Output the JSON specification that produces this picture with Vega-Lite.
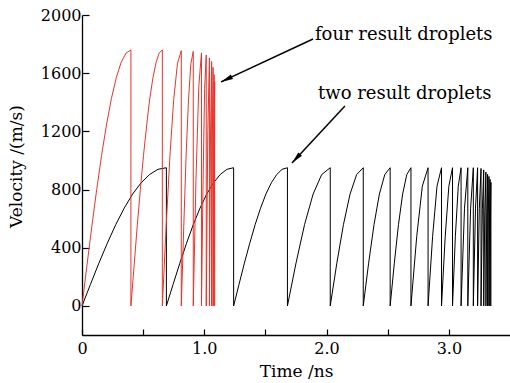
{
  "$schema": "https://vega.github.io/schema/vega-lite/v6.json",
  "width": 428,
  "height": 320,
  "autosize": {"type": "none"},
  "padding": {"left": 82, "top": 15, "right": 0, "bottom": 48},
  "background": "white",
  "config": {
    "view": {"stroke": null},
    "font": "DejaVu Serif",
    "axis": {
      "grid": false,
      "labelFlush": false,
      "domainColor": "#000",
      "tickColor": "#000",
      "labelColor": "#000",
      "titleColor": "#000",
      "labelFont": "DejaVu Serif",
      "titleFont": "DejaVu Serif",
      "labelFontSize": 16,
      "titleFontSize": 17,
      "titleFontWeight": "normal",
      "domainWidth": 1.3,
      "tickWidth": 1.2
    }
  },
  "datasets": {
    "black": [
      {"t": 0, "v": 0}, {"t": 0.069, "v": 148}, {"t": 0.138, "v": 294}, {"t": 0.207, "v": 431}, {"t": 0.276, "v": 559}, {"t": 0.345, "v": 672}, {"t": 0.414, "v": 769}, {"t": 0.483, "v": 846}, {"t": 0.552, "v": 903}, {"t": 0.621, "v": 939}, {"t": 0.69, "v": 950}, {"t": 0.69, "v": 0},
      {"t": 0.745, "v": 148}, {"t": 0.8, "v": 294}, {"t": 0.855, "v": 431}, {"t": 0.91, "v": 559}, {"t": 0.965, "v": 672}, {"t": 1.02, "v": 769}, {"t": 1.075, "v": 846}, {"t": 1.13, "v": 903}, {"t": 1.185, "v": 939}, {"t": 1.24, "v": 950}, {"t": 1.24, "v": 0},
      {"t": 1.284, "v": 148}, {"t": 1.328, "v": 294}, {"t": 1.372, "v": 431}, {"t": 1.416, "v": 559}, {"t": 1.46, "v": 672}, {"t": 1.504, "v": 769}, {"t": 1.548, "v": 846}, {"t": 1.592, "v": 903}, {"t": 1.636, "v": 939}, {"t": 1.68, "v": 950}, {"t": 1.68, "v": 0},
      {"t": 1.75, "v": 294}, {"t": 1.82, "v": 559}, {"t": 1.89, "v": 769}, {"t": 1.96, "v": 903}, {"t": 2.03, "v": 950}, {"t": 2.03, "v": 0},
      {"t": 2.084, "v": 294}, {"t": 2.138, "v": 559}, {"t": 2.192, "v": 769}, {"t": 2.246, "v": 903}, {"t": 2.3, "v": 950}, {"t": 2.3, "v": 0},
      {"t": 2.344, "v": 294}, {"t": 2.388, "v": 559}, {"t": 2.432, "v": 769}, {"t": 2.476, "v": 903}, {"t": 2.52, "v": 950}, {"t": 2.52, "v": 0},
      {"t": 2.554, "v": 294}, {"t": 2.588, "v": 559}, {"t": 2.622, "v": 769}, {"t": 2.656, "v": 903}, {"t": 2.69, "v": 950}, {"t": 2.69, "v": 0},
      {"t": 2.737, "v": 475}, {"t": 2.783, "v": 823}, {"t": 2.83, "v": 950}, {"t": 2.83, "v": 0},
      {"t": 2.867, "v": 475}, {"t": 2.903, "v": 823}, {"t": 2.94, "v": 950}, {"t": 2.94, "v": 0},
      {"t": 2.97, "v": 475}, {"t": 3.0, "v": 823}, {"t": 3.03, "v": 950}, {"t": 3.03, "v": 0},
      {"t": 3.053, "v": 475}, {"t": 3.077, "v": 823}, {"t": 3.1, "v": 950}, {"t": 3.1, "v": 0},
      {"t": 3.128, "v": 672}, {"t": 3.155, "v": 950}, {"t": 3.155, "v": 0},
      {"t": 3.178, "v": 672}, {"t": 3.2, "v": 950}, {"t": 3.2, "v": 0},
      {"t": 3.218, "v": 672}, {"t": 3.235, "v": 950}, {"t": 3.235, "v": 0},
      {"t": 3.249, "v": 668}, {"t": 3.263, "v": 945}, {"t": 3.263, "v": 0},
      {"t": 3.274, "v": 661}, {"t": 3.285, "v": 935}, {"t": 3.285, "v": 0},
      {"t": 3.294, "v": 650}, {"t": 3.303, "v": 920}, {"t": 3.303, "v": 0},
      {"t": 3.31, "v": 640}, {"t": 3.317, "v": 905}, {"t": 3.317, "v": 0},
      {"t": 3.3225, "v": 629}, {"t": 3.328, "v": 890}, {"t": 3.328, "v": 0},
      {"t": 3.3325, "v": 615}, {"t": 3.337, "v": 870}, {"t": 3.337, "v": 0},
      {"t": 3.3405, "v": 601}, {"t": 3.344, "v": 850}, {"t": 3.344, "v": 0}
    ],
    "red": [
      {"t": 0, "v": 0}, {"t": 0.04, "v": 275}, {"t": 0.08, "v": 544}, {"t": 0.12, "v": 799}, {"t": 0.16, "v": 1035}, {"t": 0.2, "v": 1244}, {"t": 0.24, "v": 1424}, {"t": 0.28, "v": 1568}, {"t": 0.32, "v": 1674}, {"t": 0.36, "v": 1738}, {"t": 0.4, "v": 1760}, {"t": 0.4, "v": 0},
      {"t": 0.426, "v": 275}, {"t": 0.451, "v": 544}, {"t": 0.477, "v": 799}, {"t": 0.503, "v": 1035}, {"t": 0.529, "v": 1244}, {"t": 0.554, "v": 1424}, {"t": 0.58, "v": 1568}, {"t": 0.606, "v": 1674}, {"t": 0.631, "v": 1738}, {"t": 0.657, "v": 1760}, {"t": 0.657, "v": 0},
      {"t": 0.688, "v": 542}, {"t": 0.719, "v": 1032}, {"t": 0.75, "v": 1420}, {"t": 0.781, "v": 1669}, {"t": 0.812, "v": 1755}, {"t": 0.812, "v": 0},
      {"t": 0.832, "v": 541}, {"t": 0.851, "v": 1029}, {"t": 0.871, "v": 1416}, {"t": 0.89, "v": 1664}, {"t": 0.91, "v": 1750}, {"t": 0.91, "v": 0},
      {"t": 0.932, "v": 870}, {"t": 0.955, "v": 1507}, {"t": 0.977, "v": 1740}, {"t": 0.977, "v": 0},
      {"t": 0.99, "v": 863}, {"t": 1.003, "v": 1494}, {"t": 1.016, "v": 1725}, {"t": 1.016, "v": 0},
      {"t": 1.029, "v": 1206}, {"t": 1.042, "v": 1705}, {"t": 1.042, "v": 0},
      {"t": 1.051, "v": 1188}, {"t": 1.06, "v": 1680}, {"t": 1.06, "v": 0},
      {"t": 1.066, "v": 1160}, {"t": 1.072, "v": 1640}, {"t": 1.072, "v": 0},
      {"t": 1.076, "v": 1124}, {"t": 1.08, "v": 1590}, {"t": 1.08, "v": 0},
      {"t": 1.0825, "v": 1089}, {"t": 1.085, "v": 1540}, {"t": 1.085, "v": 0}
    ],
    "arrows": [
      {"name": "four", "t": 1.889, "v": 1835, "t2": 1.137, "v2": 1540},
      {"name": "two", "t": 2.15, "v": 1375, "t2": 1.717, "v2": 983}
    ],
    "notes": [
      {"label": "four result droplets", "t": 1.905, "v": 1863},
      {"label": "two result droplets", "t": 1.93, "v": 1457}
    ]
  },
  "layer": [
    {
      "data": {"name": "black"},
      "mark": {"type": "line", "color": "#000", "strokeWidth": 1},
      "encoding": {
        "x": {
          "field": "t", "type": "quantitative",
          "scale": {"domain": [0, 3.5], "nice": false, "zero": false},
          "axis": {
            "title": "Time /ns",
            "values": [0, 0.5, 1, 1.5, 2, 2.5, 3],
            "labelExpr": "datum.value === 0 ? '0' : (datum.value % 1 === 0 ? format(datum.value, '.1f') : '')",
            "labelFlush": false,
            "tickSize": -6,
            "labelPadding": 11,
            "titleY": 41,
            "titleBaseline": "alphabetic",
            "encode": {"ticks": {"update": {"y2": {"signal": "datum.value % 1 === 0 ? -6 : -4"}}}}
          }
        },
        "y": {
          "field": "v", "type": "quantitative",
          "scale": {"domain": [-200, 2000], "nice": false, "zero": false},
          "axis": {
            "title": "Velocity /(m/s)",
            "values": [0, 200, 400, 600, 800, 1000, 1200, 1400, 1600, 1800, 2000],
            "format": "d",
            "labelExpr": "datum.value % 400 === 0 ? datum.label : ''",
            "labelFlush": false,
            "tickSize": -7,
            "labelPadding": 8,
            "titleX": -66,
            "titleY": 151,
            "titleAlign": "center",
            "titleBaseline": "middle",
            "encode": {"ticks": {"update": {"x2": {"signal": "datum.value % 400 === 0 ? 7 : 4"}}}}
          }
        },
        "order": {"value": null}
      }
    },
    {
      "data": {"name": "red"},
      "mark": {"type": "line", "color": "#e8342b", "strokeWidth": 1},
      "encoding": {
        "x": {"field": "t", "type": "quantitative"},
        "y": {"field": "v", "type": "quantitative"},
        "order": {"value": null}
      }
    },
    {
      "data": {"name": "arrows"},
      "mark": {"type": "rule", "color": "#000", "strokeWidth": 1.5},
      "encoding": {
        "x": {"field": "t", "type": "quantitative"},
        "y": {"field": "v", "type": "quantitative"},
        "x2": {"field": "t2"},
        "y2": {"field": "v2"}
      }
    },
    {
      "data": {"name": "arrows"},
      "transform": [{"filter": "datum.name === 'four'"}],
      "mark": {"type": "point", "shape": "M0,0L-0.42,2L0.42,2Z", "filled": true, "color": "#000", "opacity": 1, "size": 144, "angle": 245},
      "encoding": {
        "x": {"field": "t2", "type": "quantitative"},
        "y": {"field": "v2", "type": "quantitative"}
      }
    },
    {
      "data": {"name": "arrows"},
      "transform": [{"filter": "datum.name === 'two'"}],
      "mark": {"type": "point", "shape": "M0,0L-0.42,2L0.42,2Z", "filled": true, "color": "#000", "opacity": 1, "size": 144, "angle": 223},
      "encoding": {
        "x": {"field": "t2", "type": "quantitative"},
        "y": {"field": "v2", "type": "quantitative"}
      }
    },
    {
      "data": {"name": "notes"},
      "mark": {"type": "text", "align": "left", "baseline": "middle", "font": "DejaVu Serif", "fontSize": 18, "color": "#000"},
      "encoding": {
        "x": {"field": "t", "type": "quantitative"},
        "y": {"field": "v", "type": "quantitative"},
        "text": {"field": "label"}
      }
    }
  ]
}
